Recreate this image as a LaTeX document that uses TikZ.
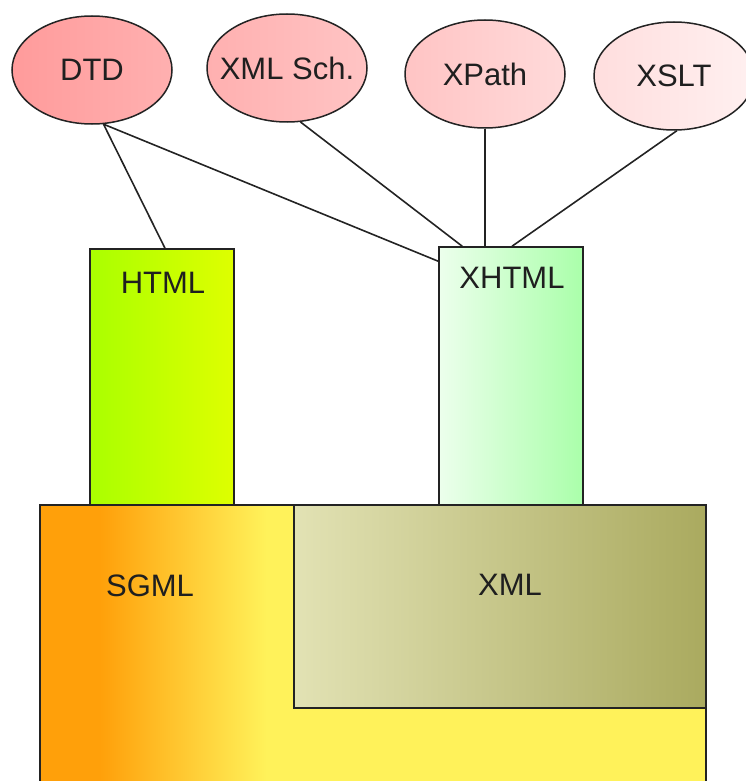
\documentclass[tikz,border=0pt]{standalone}
\usepackage{fontspec}
\setmainfont{Liberation Sans}
\usetikzlibrary{shapes.geometric}

\definecolor{edge}{RGB}{35,35,35}
\definecolor{sgmlorange}{RGB}{255,160,10}
\definecolor{sgmlyellow}{RGB}{255,242,90}
% orange on the left, blending into yellow (box spans 25bp..75bp of the shading)
\pgfdeclarehorizontalshading{sgmlshade}{100bp}{%
  color(0bp)=(sgmlorange); color(29.5bp)=(sgmlorange);
  color(42bp)=(sgmlyellow); color(100bp)=(sgmlyellow)}

\begin{document}
\begin{tikzpicture}[x=1pt,y=-1pt,
  every node/.style={font=\fontsize{31}{34}\selectfont, text=black!88},
  spec/.style={ellipse, draw=edge, line width=1.5pt, inner xsep=-20pt, inner ysep=0pt,
    minimum width=160pt, minimum height=108pt},
  lang/.style={rectangle, draw=edge, line width=1.5pt, inner sep=0pt},
  link/.style={draw=edge, line width=1.6pt}]
\useasboundingbox (0,0) rectangle (746,781);
\clip (0,0) rectangle (746,781);

% specification ellipses
\node[spec, left color={rgb,255:red,255;green,155;blue,155}, right color={rgb,255:red,255;green,176;blue,176}] (dtd) at (92,70) {DTD};
\node[spec, left color={rgb,255:red,255;green,176;blue,176}, right color={rgb,255:red,255;green,196;blue,196}] (xsd) at (287,68) {XML Sch.};
\node[spec, left color={rgb,255:red,255;green,196;blue,196}, right color={rgb,255:red,255;green,218;blue,218}] (xpath) at (485,74) {XPath};
\node[spec, left color={rgb,255:red,255;green,222;blue,222}, right color={rgb,255:red,255;green,240;blue,240}] (xslt) at (674,76) {XSLT};

% markup language boxes
\node[lang, minimum width=144pt, minimum height=256pt,
  left color={rgb,255:red,170;green,255;blue,0}, right color={rgb,255:red,222;green,255;blue,0}] (html) at (162,377) {};
\node[lang, minimum width=144pt, minimum height=258pt,
  left color={rgb,255:red,236;green,255;blue,236}, right color={rgb,255:red,170;green,255;blue,170}] (xhtml) at (511,376) {};
\node[lang, minimum width=666pt, minimum height=285pt, shading=sgmlshade] (sgml) at (373,647.5) {};
\node[lang, minimum width=412pt, minimum height=203pt,
  left color={rgb,255:red,226;green,226;blue,180}, right color={rgb,255:red,170;green,170;blue,95}] (xml) at (500,606.5) {};

% labels
\node (htmltxt) at (163,283) {HTML};
\node (xhtmltxt) at (512,278) {XHTML};
\node (sgmltxt) at (150,586) {SGML};
\node (xmltxt) at (510,585) {XML};

% connectors
\draw[link] (dtd.-78) -- ([xshift=3pt]html.north);
\draw[link] (dtd.-78) -- ([yshift=-15pt]xhtml.north west);
\draw[link] (xsd.-76) -- ([xshift=24pt]xhtml.north west);
\draw[link] (xpath.south) -- ([xshift=-26pt]xhtml.north);
\draw[link] (xslt.-87) -- ([xshift=1pt]xhtml.north);
\end{tikzpicture}
\end{document}
